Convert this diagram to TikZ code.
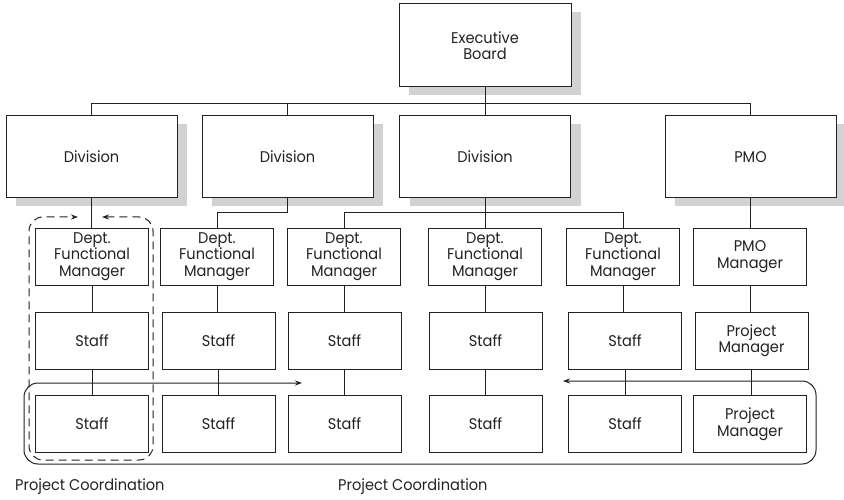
\documentclass[tikz,border=0pt]{standalone}
\usepackage{fontspec}
\setmainfont{Poppins}[FakeStretch=0.94]
\usetikzlibrary{arrows.meta,shadows}
\definecolor{ink}{HTML}{222222}
\definecolor{shade}{HTML}{D2D2D2}
\tikzset{
  base/.style={draw=ink, line width=1pt, fill=white, align=center, inner sep=0pt,
    font=\fontsize{15.5}{16.5}\selectfont, text=ink},
  bigbox/.style={base, minimum width=171pt, minimum height=82pt,
    drop shadow={shadow xshift=10pt, shadow yshift=-8pt, fill=shade, opacity=1}},
  smallbox/.style={base, minimum width=113pt, minimum height=57pt},
  link/.style={draw=ink, line width=1pt},
  caption/.style={font=\fontsize{15.5}{16.5}\selectfont, text=ink, anchor=west, inner sep=0pt}
}
\begin{document}
\begin{tikzpicture}[x=1pt,y=-1pt]
\useasboundingbox (0,0) rectangle (844,500);
% top levels
\node[bigbox, minimum width=172pt, minimum height=83pt] (exec) at (485,45.5) {Executive\\Board};
\node[bigbox] (div1) at (91.5,157) {Division};
\node[bigbox] (div2) at (287.5,157) {Division};
\node[bigbox] (div3) at (485,157) {Division};
\node[bigbox] (pmo) at (750.5,157) {PMO};
% row 1
\node[smallbox] (d1) at (92,256.5) {Dept.\\Functional\\Manager};
\node[smallbox] (d2) at (217,256.5) {Dept.\\Functional\\Manager};
\node[smallbox] (d3) at (344,256.5) {Dept.\\Functional\\Manager};
\node[smallbox] (d4) at (485,256.5) {Dept.\\Functional\\Manager};
\node[smallbox] (d5) at (623,256.5) {Dept.\\Functional\\Manager};
\node[smallbox] (pmm) at (750,256.5) {PMO\\Manager};
% row 2
\node[smallbox] (s1) at (92,340.5) {Staff};
\node[smallbox] (s2) at (218.5,340.5) {Staff};
\node[smallbox] (s3) at (344.5,340.5) {Staff};
\node[smallbox] (s4) at (485.5,340.5) {Staff};
\node[smallbox] (s5) at (625,340.5) {Staff};
\node[smallbox] (pm1) at (751.5,340.5) {Project\\Manager};
% row 3
\node[smallbox] (r1) at (92,424) {Staff};
\node[smallbox] (r2) at (218.5,424) {Staff};
\node[smallbox] (r3) at (344.5,424) {Staff};
\node[smallbox] (r4) at (485.5,424) {Staff};
\node[smallbox] (r5) at (625,424) {Staff};
\node[smallbox] (pm2) at (750,424) {Project\\Manager};
% connectors top
\draw[link] (exec.south) -- ++(0,16) -| (div1.north);
\draw[link] (exec.south) -- ++(0,16) -| (div2.north);
\draw[link] (exec.south) -- (div3.north);
\draw[link] (exec.south) -- ++(0,16) -| (pmo.north);
% divisions to departments
\draw[link] (div1.south) -- (div1.south |- d1.north);
\draw[link] (div2.south) -- ++(0,14) -| (d2.north);
\draw[link] (div3.south) -- ++(0,14) -| (d3.north);
\draw[link] (div3.south) -- (div3.south |- d4.north);
\draw[link] (div3.south) -- ++(0,14) -| (d5.north);
\draw[link] (pmo.south) -- (pmo.south |- pmm.north);
% columns
\draw[link] (d1.south) -- (s1.north) (s1.south) -- (r1.north);
\draw[link] (d2.south) -- (d2.south |- s2.north) (s2.south) -- (r2.north);
\draw[link] (d3.south) -- (d3.south |- s3.north) (s3.south) -- (r3.north);
\draw[link] (d4.south) -- (d4.south |- s4.north) (s4.south) -- (r4.north);
\draw[link] (d5.south) -- (d5.south |- s5.north) (s5.south) -- (r5.north);
\draw[link] (pmm.south) -- (pmm.south |- pm1.north) (pm1.south) -- (pm1.south |- pm2.north);
% functional coordination (dashed)
\coordinate (da) at (102,217);
\coordinate (db) at (78,217);
\draw[draw=ink, line width=1pt, dash pattern=on 8pt off 5pt, rounded corners=14pt,
  arrows={{Stealth[length=7pt,width=5pt]}-{Stealth[length=7pt,width=5pt]}}]
  (da) -- (153,217) -- (153,460) -- (29,460) -- (29,217) -- (db);
% project coordination (solid)
\coordinate (pa) at (563,381);
\coordinate (pb) at (302,383);
\draw[draw=ink, line width=1pt, rounded corners=14pt,
  arrows={{Stealth[length=7pt,width=5pt]}-{Stealth[length=7pt,width=5pt]}}]
  (pa) -- (816,381) -- (816,464) -- (24,464) -- (24,383) -- (pb);
% captions
\node[caption] (cap1) at (15,487) {Project Coordination};
\node[caption] (cap2) at (338,487) {Project Coordination};
\end{tikzpicture}
\end{document}
